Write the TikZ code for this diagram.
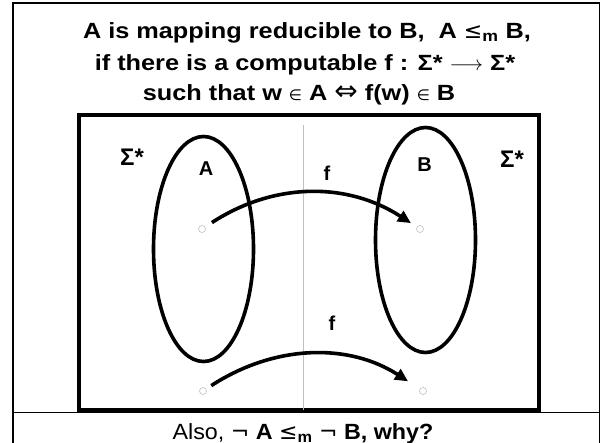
\documentclass[tikz,border=0pt]{standalone}
\usepackage{fontspec}
\setmainfont{Liberation Sans}
\newfontfamily\headfont[FakeStretch=1.15]{Liberation Sans}
\newfontfamily\notefont[FakeStretch=1.06]{Liberation Sans}
\newfontfamily\symfont{DejaVu Sans}
\usetikzlibrary{shapes,arrows.meta,positioning}
\newcommand{\sy}[2][22]{{\symfont\mdseries\fontsize{#1}{#1}\selectfont #2}}

\begin{document}
\begin{tikzpicture}[
    x=1pt, y=-1pt,
    headline/.style={anchor=base, inner sep=0pt, font=\headfont\fontsize{22}{26}\selectfont\bfseries},
    noteline/.style={anchor=base, inner sep=0pt, font=\notefont\fontsize{22}{26}\selectfont\bfseries},
    setlabel/.style={anchor=base, inner sep=0pt, font=\fontsize{20}{24}\selectfont\bfseries},
    sigmalabel/.style={anchor=base, inner sep=0pt, font=\fontsize{24}{28}\selectfont\bfseries},
    universe/.style={rectangle, draw, line width=4.5pt, minimum width=460pt, minimum height=295pt, inner sep=0pt},
    setoval/.style={ellipse, draw, line width=3.6pt, minimum width=100pt, minimum height=225pt, inner sep=0pt},
    elem/.style={circle, draw=gray!45, line width=0.7pt, minimum size=7pt, inner sep=0pt},
    maparrow/.style={-{Triangle[length=13pt,width=12pt]}, line width=3.6pt, bend left=33}
]
\useasboundingbox (0,0) rectangle (602,442);
\clip (0,0) rectangle (602,442);

% Slide frame
\draw[line width=1.8pt] (13,446) -- (13,3) -- (599.5,3) -- (599.5,446);
\draw[line width=0.8pt] (13,412) -- (599.5,412);

% Definition
\node[headline] (line1) at (307,38) {A is mapping reducible to B,\ \ A \sy{≤}\textsubscript{m} B,};
\node[headline] (line2) at (305,70) {if there is a computable f : Σ* $\longrightarrow$ Σ*};
\node[headline] (line3) at (299,100) {such that w \sy[15]{∈} A \sy[28]{⇔} f(w) \sy[15]{∈} B};

% Sigma* box
\node[universe] (box) at (309,262.5) {};
\coordinate (divtop) at (303,125);
\coordinate (divbot) at (303,410);
\draw[gray!50, line width=0.6pt] (divtop) -- (divbot);

% Sets A and B
\node[setoval] (setA) at (203.5,249) {};
\node[setoval] (setB) at (425.5,240) {};
\node[sigmalabel] (sigA) at (132,165) {Σ*};
\node[sigmalabel] (sigB) at (512,167) {Σ*};
\node[setlabel] (labA) at (206,175) {A};
\node[setlabel] (labB) at (424.5,171) {B};

% Elements
\node[elem] (a1) at (202,229) {};
\node[elem] (b1) at (420,229) {};
\node[elem] (a2) at (203,391) {};
\node[elem] (b2) at (423,391) {};

% Mapping f
\draw[maparrow, shorten <=8pt, shorten >=7pt] (a1) to (b1);
\draw[maparrow, shorten <=6pt, shorten >=14pt] (a2) to (b2);
\node[setlabel] (f1) at (327,180) {f};
\node[setlabel] (f2) at (332,330) {f};

% Question
\node[noteline] (note) at (303,439) {\mdseries Also, \bfseries\sy{¬} A \sy{≤}\textsubscript{m} \sy{¬} B, why?};

\end{tikzpicture}
\end{document}
